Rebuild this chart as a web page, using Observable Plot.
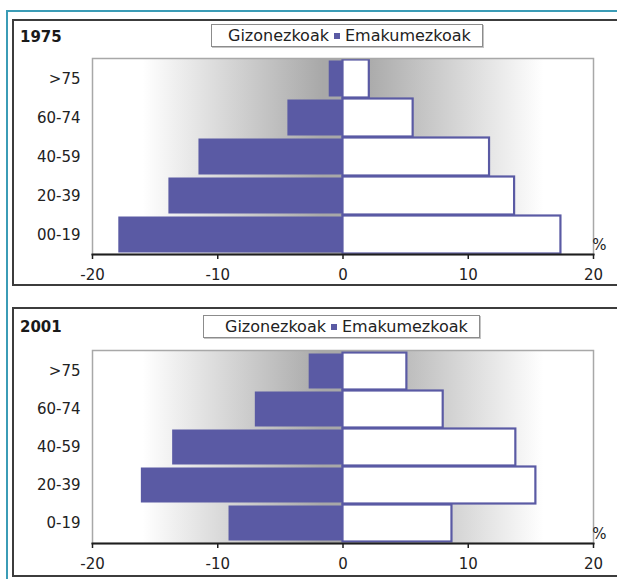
<!DOCTYPE html>
<html>
<head>
<meta charset="utf-8">
<script src="https://cdn.jsdelivr.net/npm/d3@7"></script>
<script src="https://cdn.jsdelivr.net/npm/@observablehq/plot@0.6"></script>
<style>
  html, body { margin: 0; padding: 0; }
  body { width: 617px; height: 579px; overflow: hidden; position: relative; background: #fff; font-family: "DejaVu Sans", Verdana, sans-serif; color: #222; }
  .teal { position: absolute; left: 6px; top: 10px; width: 700px; height: 700px; border-left: 2px solid #3b9cb6; border-top: 2px solid #3b9cb6; }
  .panel { position: absolute; left: 12px; width: 720px; box-sizing: border-box; border: 2px solid #3c3c3c; background: #fff; }
  .title { position: absolute; left: 20px; font-weight: bold; font-size: 15px; line-height: 18px; color: #1a1a1a; }
  .legend { position: absolute; box-sizing: border-box; height: 23px; border: 1px solid #8c8c8c; box-shadow: 1px 1px 0 #c4c4c4; background: #fff; display: flex; align-items: center; font-size: 16px; color: #222; white-space: nowrap; }
  .mk { display: inline-block; width: 6px; height: 6px; }
  .chart { position: absolute; left: 0; }
</style>
</head>
<body>
<div class="teal"></div>
<div class="panel" style="top:19px;height:267px;"></div>
<div class="panel" style="top:307px;height:270px;"></div>
<div class="title" style="top:28px;">1975</div>
<div class="title" style="top:318px;">2001</div>
<div class="legend" style="left:211px;top:24px;width:272px;padding-left:5px;">
  <span class="mk" style="background:#fff;margin-right:5px;"></span>Gizonezkoak<span class="mk" style="background:#5a5aa4;margin:0 5px;"></span>Emakumezkoak
</div>
<div class="legend" style="left:203px;top:315px;width:277px;padding-left:10px;">
  <span class="mk" style="background:#fff;margin-right:5px;"></span>Gizonezkoak<span class="mk" style="background:#5a5aa4;margin:0 5px;"></span>Emakumezkoak
</div>
<div id="c1975" class="chart" style="top:20px;"></div>
<div id="c2001" class="chart" style="top:308px;"></div>
<script>
// Age groups (top to bottom)
const ageGroups1975 = [">75", "60-74", "40-59", "20-39", "00-19"];
const ageGroups2001 = [">75", "60-74", "40-59", "20-39", "0-19"];
// Left series (purple) — Emakumezkoak, in % (negative side)
const emakumezkoak1975 = [-1.1, -4.4, -11.5, -13.9, -17.9];
const emakumezkoak2001 = [-2.7, -7.0, -13.6, -16.1, -9.1];
// Right series (white) — Gizonezkoak, in %
const gizonezkoak1975 = [2.1, 5.6, 11.7, 13.7, 17.4];
const gizonezkoak2001 = [5.1, 8.0, 13.8, 15.4, 8.7];
// Axis ticks
const xTicks = [-20, -10, 0, 10, 20];
const unitLabel = ["%"];

const purple = "#5a5aa4";

function pyramid(id, groups, left, right, height, mt, mb) {
  const leftRows = groups.map((g, i) => ({group: g, value: left[i]}));
  const rightRows = groups.map((g, i) => ({group: g, value: right[i]}));
  const gid = "grad" + id;
  const svg = Plot.plot({
    width: 617,
    height,
    marginLeft: 92,
    marginRight: 24,
    marginTop: mt,
    marginBottom: mb,
    style: {fontFamily: "DejaVu Sans, Verdana, sans-serif", fontSize: "15px", color: "#222", background: "transparent", overflow: "visible"},
    x: {domain: [-20, 20]},
    y: {domain: groups, padding: 0},
    marks: [
      Plot.frame({fill: `url(#${gid})`}),
      Plot.barX(leftRows, {x: "value", y: "group", fill: purple, insetTop: 1.5, insetBottom: 1.5}),
      Plot.barX(rightRows, {x: "value", y: "group", fill: "#fff", stroke: purple, strokeWidth: 2.2, insetTop: 0.5, insetBottom: 0.5}),
      Plot.frame({stroke: "#a8a8a8", strokeWidth: 1.5}),
      Plot.frame({anchor: "bottom", stroke: "#1e1e1e", strokeWidth: 2}),
      Plot.axisX({ticks: xTicks, tickSize: 5, tickPadding: 10, tickFormat: d => String(d), label: null, stroke: "#1e1e1e", strokeWidth: 1.5}),
      Plot.axisY({tickSize: 0, tickPadding: 12, label: null}),
      Plot.text(unitLabel, {frameAnchor: "bottom-right", dx: 13, dy: -5, fontSize: 15})
    ]
  });
  const defs = d3.select(svg).insert("defs", ":first-child");
  const lg = defs.append("linearGradient").attr("id", gid).attr("x1", "0").attr("x2", "1").attr("y1", "0").attr("y2", "0");
  [[0, "#ffffff"], [0.1, "#ffffff"], [0.46, "#a8a8a8"], [0.54, "#a8a8a8"], [0.9, "#ffffff"], [1, "#ffffff"]]
    .forEach(([o, c]) => lg.append("stop").attr("offset", o).attr("stop-color", c));
  document.getElementById(id).appendChild(svg);
}

pyramid("c1975", ageGroups1975, emakumezkoak1975, gizonezkoak1975, 265, 38, 31);
pyramid("c2001", ageGroups2001, emakumezkoak2001, gizonezkoak2001, 268, 42, 33);
</script>
</body>
</html>
